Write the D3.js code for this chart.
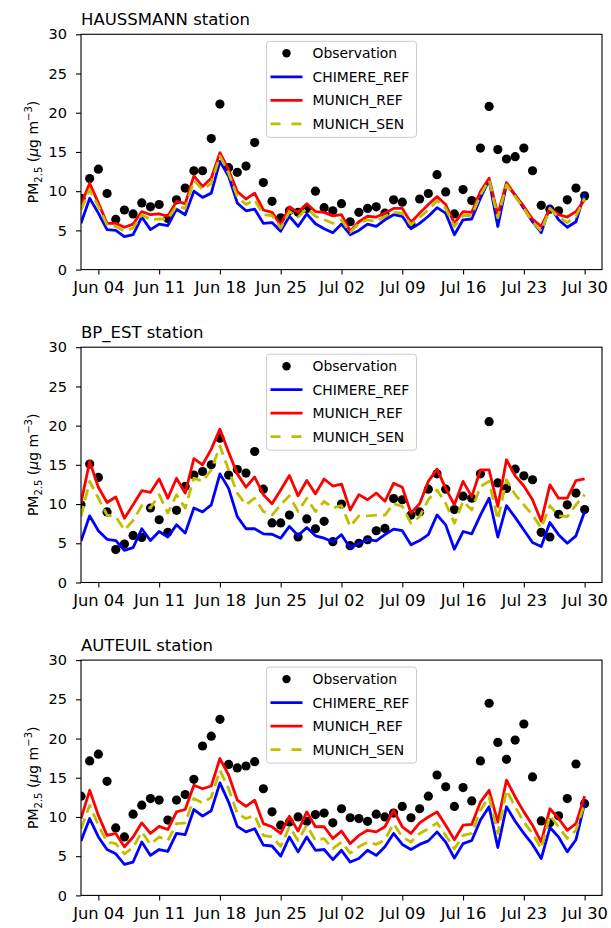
<!DOCTYPE html>
<html>
<head>
<meta charset="utf-8">
<script src="https://cdn.jsdelivr.net/npm/d3@7"></script>
<style>
body { margin: 0; background: #fff; }
svg text { font-family: "DejaVu Sans", sans-serif; fill: #000; }
</style>
</head>
<body>
<div class="chart"></div>
<script>
var firstDay = "2018-06-02";
var lastDay = "2018-07-30";
var axisEnd = "2018-08-01";
var yTicks = [0, 5, 10, 15, 20, 25, 30];
var seriesNames = ["Observation", "CHIMERE_REF", "MUNICH_REF", "MUNICH_SEN"];
var stationNames = ["HAUSSMANN station", "BP_EST station", "AUTEUIL station"];

var haussmannObs = [9.1, 11.6, 12.8, 9.7, 6.4, 7.6, 7.1, 8.5, 8.0, 8.3,
    6.5, 8.9, 10.4, 12.6, 12.6, 16.7, 21.1, 13.0, 12.4, 13.2,
    16.2, 11.1, 8.7, 6.6, 7.5, 7.3, 7.8, 10.0, 7.9, 7.5,
    8.4, 6.1, 7.3, 7.8, 8.0, 7.2, 8.9, 8.6, 5.8, 9.0,
    9.7, 12.1, 9.9, 7.1, 10.2, 8.8, 15.5, 20.8, 15.3, 14.1,
    14.4, 15.5, 12.6, 8.2, 7.7, 7.5, 8.9, 10.4, 9.4];
var haussmannChimere = [5.9, 9.1, 7.2, 5.1, 5.0, 4.2, 4.45, 6.7, 5.1, 5.8,
    5.6, 7.7, 7.0, 10.0, 9.2, 9.75, 13.8, 11.9, 8.5, 7.5,
    7.7, 5.9, 6.0, 4.9, 6.8, 5.5, 7.1, 5.85, 5.2, 4.7,
    5.8, 4.45, 5.0, 5.8, 5.5, 6.35, 7.0, 6.8, 5.2, 5.9,
    6.8, 7.9, 7.2, 4.45, 6.35, 6.45, 9.1, 11.4, 5.5, 10.9,
    9.5, 7.8, 6.1, 4.7, 8.1, 6.35, 5.4, 6.1, 9.75];
var haussmannMunichRef = [8.3, 11.0, 8.5, 5.9, 5.9, 5.4, 5.8, 7.4, 7.0, 7.1,
    6.8, 8.7, 8.4, 11.95, 10.6, 11.65, 14.9, 12.7, 9.95, 9.0,
    9.75, 7.6, 7.3, 5.7, 8.0, 7.3, 8.4, 7.4, 7.3, 6.85,
    7.0, 4.9, 6.1, 6.8, 6.7, 7.2, 7.8, 7.8, 6.0, 7.2,
    8.3, 9.3, 8.3, 5.9, 7.4, 7.3, 9.95, 11.65, 7.0, 11.1,
    9.5, 8.05, 6.45, 5.5, 7.8, 7.0, 6.7, 7.4, 8.9];
var haussmannMunichSen = [7.6, 10.2, 8.05, 5.7, 5.5, 4.9, 5.3, 7.0, 6.35, 6.45,
    6.45, 8.1, 7.8, 11.35, 10.2, 11.0, 14.5, 12.3, 9.3, 8.3,
    8.9, 7.0, 6.9, 5.3, 7.4, 6.7, 7.8, 6.8, 6.35, 5.9,
    6.35, 4.75, 5.9, 6.35, 6.1, 6.8, 7.3, 7.2, 5.7, 6.7,
    7.6, 8.8, 7.8, 5.5, 6.9, 6.9, 9.5, 11.4, 6.6, 10.8,
    9.3, 7.8, 6.1, 4.9, 7.8, 6.7, 6.0, 6.8, 9.1];

var bpEstObs = [9.9, 15.1, 13.4, 9.0, 4.2, 4.9, 6.0, 5.75, 9.5, 8.0,
    6.4, 9.2, 12.25, 13.7, 14.15, 15.0, 18.4, 13.7, 14.4, 13.95,
    16.7, 11.9, 7.6, 7.6, 8.6, 5.8, 8.1, 6.85, 7.8, 5.2,
    10.0, 4.7, 5.0, 5.45, 6.6, 6.9, 10.7, 10.55, 8.6, 9.0,
    11.9, 13.85, 11.9, 9.3, 11.0, 10.75, 13.85, 20.5, 12.7, 12.0,
    14.45, 13.6, 13.1, 6.4, 5.8, 8.7, 9.9, 11.4, 9.3];
var bpEstChimere = [5.3, 8.5, 6.6, 5.5, 5.35, 4.1, 4.45, 6.85, 5.35, 6.5,
    5.8, 7.35, 6.3, 9.5, 9.0, 9.9, 13.85, 12.0, 8.4, 6.85,
    6.85, 6.2, 6.15, 5.65, 7.15, 6.0, 7.0, 5.95, 5.65, 5.2,
    6.1, 4.4, 5.0, 5.5, 5.3, 6.1, 6.8, 6.6, 4.8, 5.35,
    6.1, 8.6, 7.35, 4.25, 6.5, 6.2, 8.6, 10.75, 5.8, 9.8,
    8.3, 6.7, 5.1, 4.6, 7.65, 6.1, 5.0, 5.95, 9.05];
var bpEstMunichRef = [10.1, 15.45, 12.15, 10.2, 10.9, 8.2, 9.9, 11.7, 11.5, 13.2,
    10.75, 13.3, 11.4, 15.8, 15.0, 17.0, 19.55, 16.6, 13.85, 12.15,
    13.45, 11.2, 10.05, 11.8, 13.65, 11.05, 13.0, 11.3, 13.2, 12.3,
    12.55, 9.25, 11.2, 10.55, 11.4, 10.35, 12.65, 12.15, 8.85, 10.05,
    12.9, 14.45, 12.0, 9.9, 12.9, 10.95, 14.35, 14.35, 9.7, 15.65,
    13.6, 12.3, 10.55, 7.8, 12.45, 10.75, 10.75, 13.0, 13.2];
var bpEstMunichSen = [8.4, 12.9, 10.75, 8.6, 8.4, 6.7, 7.9, 9.8, 9.5, 11.2,
    8.85, 11.2, 9.5, 13.3, 12.9, 14.35, 17.4, 14.35, 11.4, 9.9,
    10.75, 9.05, 8.6, 9.9, 11.05, 9.05, 10.75, 9.05, 10.35, 9.5,
    9.8, 7.15, 8.5, 8.5, 8.6, 8.6, 10.05, 9.7, 7.55, 8.4,
    10.55, 11.8, 10.1, 7.55, 10.35, 9.25, 12.25, 12.9, 8.0, 13.1,
    11.2, 9.9, 8.6, 6.95, 9.8, 8.5, 8.4, 9.9, 11.2];

var auteuilObs = [12.65, 17.15, 18.0, 14.55, 8.6, 7.45, 10.35, 11.5, 12.35, 12.15,
    9.6, 12.15, 12.85, 14.8, 19.05, 20.3, 22.45, 16.7, 16.25, 16.5,
    17.05, 13.6, 10.65, 8.95, 9.35, 10.0, 9.45, 10.3, 10.5, 9.25,
    11.05, 9.9, 9.8, 9.45, 10.35, 10.0, 10.5, 11.35, 9.9, 11.05,
    12.65, 15.35, 13.85, 11.35, 13.75, 12.05, 17.15, 24.5, 19.5, 17.35,
    19.8, 21.85, 15.1, 9.5, 9.25, 10.15, 12.35, 16.75, 11.7];
var auteuilChimere = [6.95, 9.8, 7.45, 5.85, 5.3, 3.95, 4.25, 6.8, 5.1, 5.85,
    5.6, 7.9, 7.75, 10.95, 10.1, 10.8, 14.35, 11.9, 8.8, 8.1,
    8.5, 6.4, 6.3, 5.0, 7.45, 5.55, 7.45, 5.75, 5.85, 4.55,
    5.75, 4.25, 4.7, 5.75, 5.1, 6.2, 7.9, 6.5, 5.85, 6.5,
    6.95, 8.1, 6.8, 4.75, 6.6, 7.0, 9.6, 11.3, 6.1, 11.3,
    9.45, 7.9, 6.5, 4.7, 8.65, 7.45, 5.55, 7.1, 11.7];
var auteuilMunichRef = [9.8, 13.4, 10.2, 7.65, 7.9, 6.2, 7.45, 9.25, 7.9, 8.8,
    8.4, 10.65, 10.95, 14.05, 13.6, 13.95, 17.45, 15.35, 12.15, 11.35,
    12.15, 9.15, 8.75, 7.9, 10.1, 8.2, 10.65, 8.75, 8.75, 7.25,
    8.2, 6.6, 7.65, 8.3, 8.1, 8.75, 10.85, 8.75, 7.9, 9.25,
    10.0, 10.65, 8.95, 7.1, 8.95, 9.05, 11.9, 13.4, 9.35, 14.7,
    12.55, 10.65, 8.95, 6.8, 11.05, 9.8, 8.3, 9.15, 12.65];
var auteuilMunichSen = [8.5, 11.5, 8.95, 6.8, 6.6, 5.3, 6.1, 8.1, 6.5, 7.45,
    7.0, 9.15, 9.25, 12.35, 11.8, 12.5, 15.95, 13.6, 10.45, 9.8,
    10.2, 7.65, 7.45, 6.25, 8.75, 7.0, 8.95, 7.0, 7.25, 5.95,
    6.8, 5.4, 6.2, 6.8, 6.5, 7.1, 9.15, 7.45, 6.8, 7.9,
    8.5, 9.25, 7.65, 5.95, 7.65, 7.9, 10.85, 12.55, 7.9, 13.4,
    11.3, 9.35, 7.9, 5.95, 10.2, 8.75, 7.25, 8.3, 11.7];

var panels = [
    { title: stationNames[0], obs: haussmannObs, lines: [haussmannChimere, haussmannMunichRef, haussmannMunichSen] },
    { title: stationNames[1], obs: bpEstObs, lines: [bpEstChimere, bpEstMunichRef, bpEstMunichSen] },
    { title: stationNames[2], obs: auteuilObs, lines: [auteuilChimere, auteuilMunichRef, auteuilMunichSen] }
];

var lineColors = ["#0000ff", "#ff0000", "#bfbf00"];
var lineDash = [null, null, "11,6"];

var WIDTH = 611;
var HEIGHT = 928;
var LEFT = 81;
var RIGHT = 602;
var TOPS = [34.3, 347.2, 660.1];
var PANEL_H = 235.3;

var parseDay = d3.utcParse("%Y-%m-%d");
var days = d3.utcDay.range(parseDay(firstDay), d3.utcDay.offset(parseDay(lastDay), 1));

var x = d3.scaleUtc()
    .domain([parseDay(firstDay), parseDay(axisEnd)])
    .range([LEFT, RIGHT]);

var svg = d3.select(".chart")
            .append("svg")
            .attr("width", WIDTH)
            .attr("height", HEIGHT);

var renderLegend = function(g, top) {
    var legend = g.append("g")
        .attr("transform", "translate(" + ((LEFT + RIGHT) / 2 - 75) + "," + (top + 7) + ")");

    legend.append("rect")
        .attr("width", 150)
        .attr("height", 96)
        .attr("rx", 3)
        .attr("fill", "#fff")
        .attr("fill-opacity", 0.8)
        .attr("stroke", "#cccccc")
        .attr("stroke-width", 1);

    seriesNames.forEach(function(name, i) {
        var rowY = 12 + i * 23.5;
        if (i === 0) {
            legend.append("circle")
                .attr("cx", 20)
                .attr("cy", rowY)
                .attr("r", 4.2)
                .attr("fill", "#000");
        } else {
            legend.append("line")
                .attr("x1", 4)
                .attr("x2", 36)
                .attr("y1", rowY)
                .attr("y2", rowY)
                .attr("stroke", lineColors[i - 1])
                .attr("stroke-width", 2.8)
                .attr("stroke-dasharray", i === 3 ? "10,11" : null);
        }
        legend.append("text")
            .attr("x", 46)
            .attr("y", rowY)
            .attr("dy", "0.36em")
            .style("font-size", "13.9px")
            .text(name);
    });
};

var renderPanel = function(panel, k) {
    var top = TOPS[k];
    var bottom = top + PANEL_H;
    var g = svg.append("g");

    var y = d3.scaleLinear()
        .domain([0, 30])
        .range([bottom, top]);

    g.append("clipPath")
        .attr("id", "clip" + k)
        .append("rect")
        .attr("x", LEFT)
        .attr("y", top)
        .attr("width", RIGHT - LEFT)
        .attr("height", PANEL_H);

    var plot = g.append("g").attr("clip-path", "url(#clip" + k + ")");

    plot.selectAll("circle")
        .data(panel.obs)
        .enter().append("circle")
        .attr("cx", function(d, i) { return x(days[i]); })
        .attr("cy", function(d) { return y(d); })
        .attr("r", 4.6)
        .attr("fill", "#000");

    var line = d3.line()
        .x(function(d, i) { return x(days[i]); })
        .y(function(d) { return y(d); });

    panel.lines.forEach(function(values, j) {
        plot.append("path")
            .attr("d", line(values))
            .attr("fill", "none")
            .attr("stroke", lineColors[j])
            .attr("stroke-width", 2.8)
            .attr("stroke-linejoin", "round")
            .attr("stroke-dasharray", lineDash[j]);
    });

    var xAxis = g.append("g")
        .attr("transform", "translate(0," + bottom + ")")
        .call(d3.axisBottom(x)
            .ticks(d3.utcMonday.every(1))
            .tickFormat(d3.utcFormat("%b %d"))
            .tickSize(5)
            .tickPadding(7));
    xAxis.selectAll("text").style("font-size", "16.3px").attr("font-family", null);

    var yAxis = g.append("g")
        .attr("transform", "translate(" + LEFT + ",0)")
        .call(d3.axisLeft(y)
            .tickValues(yTicks)
            .tickSize(5)
            .tickPadding(9));
    yAxis.selectAll("text").style("font-size", "14.5px").attr("font-family", null);

    g.selectAll(".domain").remove();
    g.selectAll(".tick line").attr("stroke", "#000").attr("stroke-width", 1.1);

    g.append("rect")
        .attr("x", LEFT)
        .attr("y", top)
        .attr("width", RIGHT - LEFT)
        .attr("height", PANEL_H)
        .attr("fill", "none")
        .attr("stroke", "#000")
        .attr("stroke-width", 1.1);

    g.append("text")
        .attr("x", LEFT)
        .attr("y", top - 9)
        .style("font-size", "16.5px")
        .text(panel.title);

    var label = g.append("text")
        .attr("transform", "translate(38," + (top + PANEL_H / 2) + ") rotate(-90)")
        .attr("text-anchor", "middle")
        .style("font-size", "14px");
    label.append("tspan").text("PM");
    label.append("tspan").attr("dy", 4).style("font-size", "10px").text("2.5");
    label.append("tspan").attr("dy", -4).text(" (");
    label.append("tspan").style("font-style", "italic").text("\u03bc");
    label.append("tspan").text("g m");
    label.append("tspan").attr("dy", -6).style("font-size", "10px").text("\u22123");
    label.append("tspan").attr("dy", 6).text(")");

    renderLegend(g, top);
};

panels.forEach(renderPanel);
</script>
</body>
</html>
